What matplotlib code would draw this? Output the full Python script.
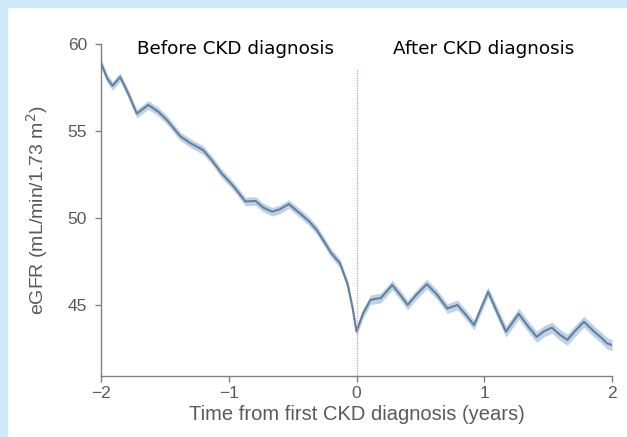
import matplotlib
matplotlib.use("Agg")
import matplotlib.pyplot as plt
import numpy as np

# eGFR trajectory
years = [-2.0, -1.95, -1.91, -1.85, -1.79, -1.72, -1.63, -1.55, -1.48, -1.38, -1.30,
         -1.20, -1.13, -1.06, -0.96, -0.87, -0.79, -0.73, -0.66, -0.60, -0.53,
         -0.44, -0.37, -0.31, -0.25, -0.20, -0.13, -0.07, -0.03, 0.0,
         0.05, 0.11, 0.19, 0.28, 0.34, 0.40, 0.47, 0.55, 0.63, 0.71, 0.79,
         0.86, 0.92, 0.98, 1.03, 1.10, 1.17, 1.27, 1.34, 1.41, 1.47, 1.53,
         1.59, 1.65, 1.71, 1.78, 1.86, 1.92, 1.96, 2.0]
egfr = [58.9, 58.0, 57.6, 58.1, 57.2, 56.0, 56.5, 56.1, 55.6, 54.7, 54.3,
        53.9, 53.3, 52.6, 51.8, 50.95, 50.98, 50.6, 50.36, 50.5, 50.8,
        50.25, 49.8, 49.3, 48.6, 48.0, 47.4, 46.2, 44.8, 43.47,
        44.5, 45.3, 45.4, 46.15, 45.6, 45.0, 45.6, 46.2, 45.6, 44.8, 45.0,
        44.4, 43.85, 44.9, 45.76, 44.6, 43.47, 44.5, 43.8, 43.17, 43.5, 43.7,
        43.3, 43.0, 43.5, 44.04, 43.47, 43.1, 42.8, 42.7]
# half width of the confidence band
ci_half = [0.25] * 30 + [0.28] * 15 + [0.32] * 15

xticks = [-2, -1, 0, 1, 2]
yticks = [45, 50, 55, 60]

years = np.array(years)
egfr = np.array(egfr)
ci_half = np.array(ci_half)

fig = plt.figure(figsize=(6.27, 4.37), dpi=100)
fig.patch.set_facecolor("#cde9fb")
fig.patches.append(plt.Rectangle((8 / 627, 0), 1, 1 - 8 / 437, transform=fig.transFigure,
                                 facecolor="white", edgecolor="none", zorder=0))

ax = fig.add_axes([101 / 627, 1 - 376 / 437, 511 / 627, 332 / 437])
ax.set_zorder(2)
ax.set_facecolor("none")

ax.fill_between(years, egfr - ci_half, egfr + ci_half, color="#b3c9e2", alpha=0.85, lw=0)
ax.plot(years, egfr, color="#62809f", lw=1.5)
ax.axvline(0, ymax=0.925, color="#c09aa0", lw=0.9, ls=(0, (1, 1)))

ax.set_xlim(-2, 2)
ax.set_ylim(40.92, 60)
ax.set_xticks(xticks)
ax.set_xticklabels(["\u22122", "\u22121", "0", "1", "2"])
ax.set_yticks(yticks)

grey = "#5a5a5a"
for s in ["top", "right"]:
    ax.spines[s].set_visible(False)
for s in ["left", "bottom"]:
    ax.spines[s].set_color("#808080")
    ax.spines[s].set_linewidth(1.0)
ax.tick_params(direction="out", length=4, width=1, colors="#808080", labelcolor=grey,
               labelsize=12.5, pad=3)
ax.tick_params(axis="y", pad=6)
for lab in ax.get_xticklabels() + ax.get_yticklabels():
    lab.set_family("Liberation Sans")

ax.set_xlabel("Time from first CKD diagnosis (years)", fontsize=14.5, color=grey,
              family="Liberation Sans", labelpad=3)
ax.set_ylabel("eGFR (mL/min/1.73 m$^2$)", fontsize=14, color=grey,
              family="Liberation Sans", labelpad=13)

fig.text(137 / 627, 1 - 54 / 437, "Before CKD diagnosis", fontsize=13.2, color="black",
         family="DejaVu Sans", va="baseline", zorder=5)
fig.text(393 / 627, 1 - 54 / 437, "After CKD diagnosis", fontsize=13.2, color="black",
         family="DejaVu Sans", va="baseline", zorder=5)

fig.savefig("out.png", dpi=100, facecolor=fig.get_facecolor())
